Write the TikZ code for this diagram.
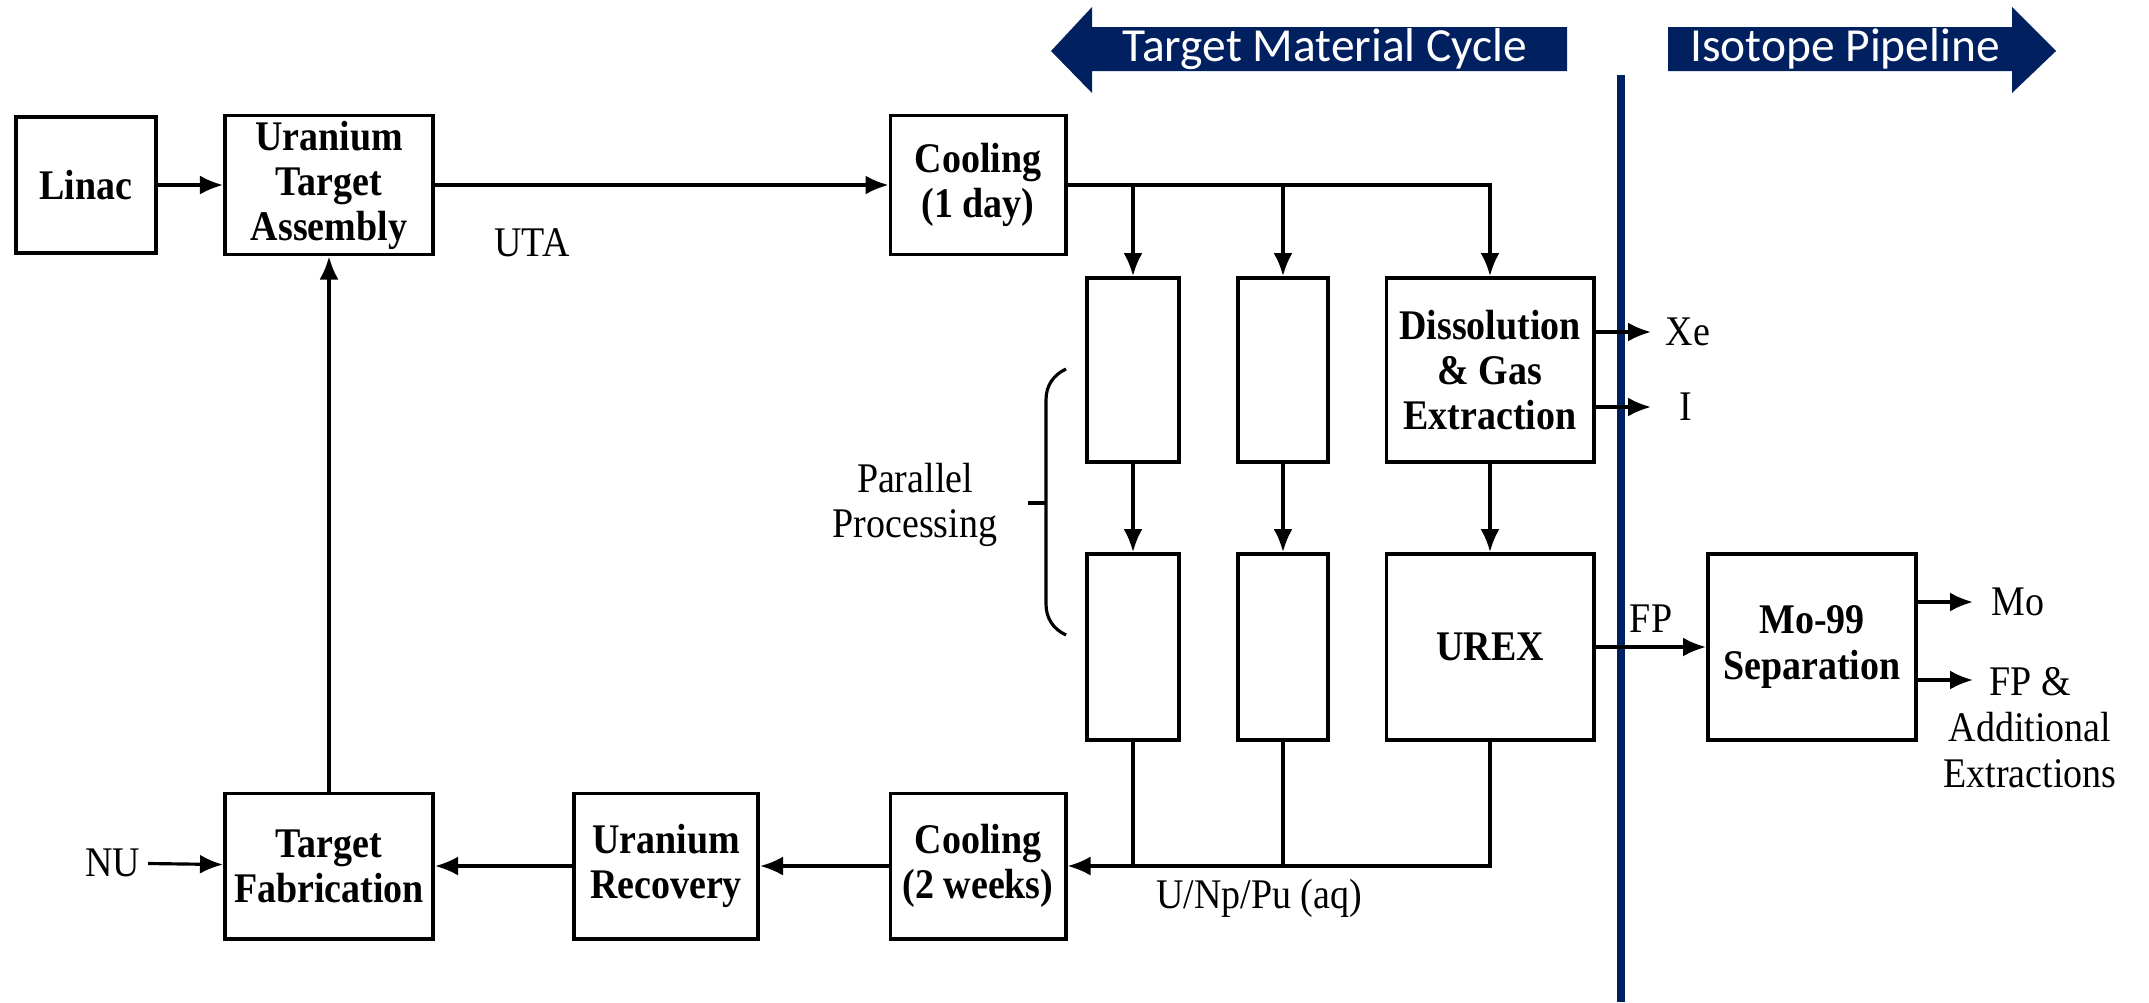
\documentclass[tikz,border=0pt]{standalone}
\usepackage{fontspec}
\setmainfont{Liberation Serif}[FakeStretch=0.9]
\newfontfamily\bannerfont{Carlito}
\usetikzlibrary{arrows.meta}
\definecolor{navy}{HTML}{002060}
\tikzset{
  box/.style={draw, line width=1.1pt, align=center, inner sep=1pt, font=\fontsize{12}{12.8}\selectfont\bfseries},
  lbl/.style={inner sep=2pt, align=center, font=\fontsize{12}{13}\selectfont},
  flow/.style={line width=0.9pt, -{Latex[length=2.3mm,width=1.9mm]}},
  pipe/.style={line width=0.9pt},
  banner/.style={text=white, font=\bannerfont\fontsize{13.5}{14}\selectfont},
}
\begin{document}
\begin{tikzpicture}[x=0.01cm, y=-0.01cm]
    \useasboundingbox (0,0) rectangle (2149,1002);
    % the two banners and the divider
    \fill[navy] (1051,51) -- (1092,7) -- (1092,27) -- (1567,27) -- (1567,71) -- (1092,71) -- (1092,93) -- cycle;
    \node[banner] (tmc) at (1325,49) {Target Material Cycle};
    \fill[navy] (2056,51) -- (2012,7) -- (2012,27) -- (1668,27) -- (1668,71) -- (2012,71) -- (2012,93) -- cycle;
    \node[banner] (iso) at (1845,49) {Isotope Pipeline};
    \draw[navy, line width=2.4pt] (1621,75) -- (1621,1002);

    % top row
    \node[box, minimum width=1.40cm, minimum height=1.36cm] (linac) at (86,185) {Linac};
    \node[box, minimum width=2.08cm, minimum height=1.39cm] (uta) at (329,185) {Uranium\\Target\\Assembly};
    \node[box, minimum width=1.75cm, minimum height=1.39cm] (cool1) at (978,185) {Cooling\\(1 day)};

    % processing lines
    \node[box, minimum width=0.92cm, minimum height=1.84cm] (pa1) at (1133,370) {};
    \node[box, minimum width=0.90cm, minimum height=1.84cm] (pb1) at (1283,370) {};
    \node[box, minimum width=2.07cm, minimum height=1.84cm] (diss) at (1490,370) {Dissolution\\\& Gas\\Extraction};
    \node[box, minimum width=0.92cm, minimum height=1.86cm] (pa2) at (1133,647) {};
    \node[box, minimum width=0.90cm, minimum height=1.86cm] (pb2) at (1283,647) {};
    \node[box, minimum width=2.07cm, minimum height=1.86cm] (urex) at (1490,647) {UREX};
    \node[box, minimum width=2.08cm, minimum height=1.86cm] (mosep) at (1812,647) {Mo-99\\Separation};

    % bottom row
    \node[box, minimum width=1.75cm, minimum height=1.45cm] (cool2) at (978,866) {Cooling\\(2 weeks)};
    \node[box, minimum width=1.84cm, minimum height=1.45cm] (urec) at (666,866) {Uranium\\Recovery};
    \node[box, minimum width=2.08cm, minimum height=1.45cm] (tfab) at (329,866) {Target\\Fabrication};

    % labels
    \node[lbl] (utalbl) at (532,243) {UTA};
    \node[lbl] (nu) at (113,863) {NU};
    \node[lbl] (unppu) at (1259,898) {U/Np/Pu (aq)};
    \node[lbl] (para) at (915,505) {Parallel\\Processing};
    \node[lbl, anchor=west, inner xsep=4pt] (xe) at (1651,332) {Xe};
    \node[lbl, anchor=west, inner xsep=8pt] (iod) at (1651,407) {I};
    \node[lbl] (fp) at (1651,619) {FP};
    \node[lbl, anchor=west, inner xsep=5pt] (mo) at (1973,602) {Mo};
    \node[lbl, anchor=north] (fpx) at (2030,660) {FP \&\\Additional\\Extractions};
    \coordinate (fpin) at (1973,680);

    % connectors
    \draw[flow] (linac) -- (uta);
    \draw[flow] (uta) -- (cool1);
    \draw[flow] (cool1.east) -| (diss.north);
    \draw[flow] (cool1.east -| pa1.north) -- (pa1.north);
    \draw[flow] (cool1.east -| pb1.north) -- (pb1.north);
    \draw[flow] (pa1) -- (pa2);
    \draw[flow] (pb1) -- (pb2);
    \draw[flow] (diss) -- (urex);
    \draw[flow] (diss.east |- xe) -- (xe.west);
    \draw[flow] (diss.east |- iod) -- (iod.west);
    \draw[flow] (urex.east) -- (mosep.west);
    \draw[flow] (mosep.east |- mo) -- (mo.west);
    \draw[flow] (mosep.east |- fpin) -- (fpin);
    \draw[pipe] (pa2.south) -- (pa2.south |- cool2.east);
    \draw[pipe] (pb2.south) -- (pb2.south |- cool2.east);
    \draw[flow] (urex.south) |- (cool2.east);
    \draw[flow] (cool2) -- (urec);
    \draw[flow] (urec) -- (tfab);
    \draw[flow] (nu) -- (tfab);
    \draw[flow] (tfab) -- (uta);

    % bracket for the parallel lines
    \draw[pipe] (1066,369) .. controls (1053,375) and (1046,386) .. (1046,400) -- (1046,604) .. controls (1046,618) and (1053,629) .. (1066,635);
    \draw[pipe] (1028,503) -- (1046,503);
\end{tikzpicture}
\end{document}
